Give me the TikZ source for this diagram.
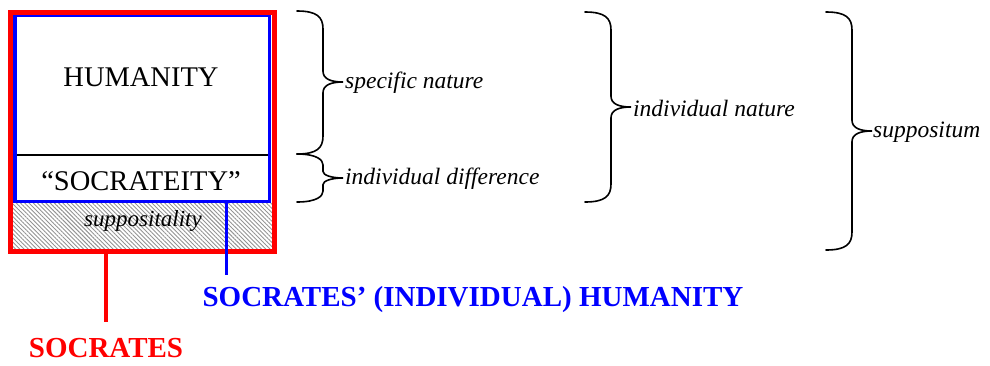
\documentclass[tikz,border=0pt]{standalone}
\usepackage{fontspec}
\setmainfont{Liberation Serif}
\usetikzlibrary{patterns.meta}
\definecolor{socred}{RGB}{255,0,0}
\definecolor{socblue}{RGB}{0,0,255}
\tikzset{
  curly/.style={line width=1.6pt, line cap=round},
  term/.style={font=\fontsize{23.5}{25}\selectfont\itshape, anchor=west, inner sep=1pt},
  part/.style={font=\fontsize{28.5}{30}\selectfont, inner sep=0pt},
  tag/.style={font=\fontsize{29}{31}\selectfont\bfseries, inner sep=0pt},
}
% x, top, middle, bottom, curl
\newcommand{\curlybrace}[5]{%
  \draw[curly] (#1,#2) .. controls ({#1+20},#2) and ({#1+26},{#2+6}) .. ({#1+26},{#2+#5})
    -- ({#1+26},{#3-#5*0.6}) .. controls ({#1+26},{#3-3}) and ({#1+34},#3) .. ({#1+46},#3)
    .. controls ({#1+34},#3) and ({#1+26},{#3+3}) .. ({#1+26},{#3+#5*0.6})
    -- ({#1+26},{#4-#5}) .. controls ({#1+26},{#4-6}) and ({#1+20},#4) .. (#1,#4);
}
\begin{document}
\begin{tikzpicture}[x=1pt, y=-1pt]
\useasboundingbox (0,0) rectangle (990,365);

% hatched part
\fill[pattern={Lines[angle=-45, distance=3pt, line width=0.9pt]}, pattern color=gray!85] (10.5,201.5) rectangle (274.5,251);
\draw[line width=1.6pt] (15,155) -- (269.5,155);
\draw[socblue, line width=3.5pt] (15,15.5) rectangle (269.5,201.5);
\draw[socred, line width=5pt] (10.5,12) rectangle (274.5,251);

\node[part] (humanity) at (141,77) {HUMANITY};
\node[part] (socrateity) at (141,181) {“SOCRATEITY”};
\node[part, font=\fontsize{23}{25}\selectfont\itshape] (suppositality) at (143,221) {suppositality};

% braces
\curlybrace{297}{11}{82}{154}{18}
\curlybrace{297}{154}{178}{202}{11}
\curlybrace{585}{12}{107}{202}{18}
\curlybrace{826}{12}{131}{250}{18}

\node[term] (specific) at (344,83) {specific nature};
\node[term] (difference) at (344,179) {individual difference};
\node[term] (indnature) at (632,108) {individual nature};
\node[term] (suppositum) at (872,132) {suppositum};

% labels below
\node[tag, text=socblue] (indhumanity) at (473,300) {SOCRATES’ (INDIVIDUAL) HUMANITY};
\node[tag, text=socred] (socrates) at (106,348) {SOCRATES};
\coordinate (bluefoot) at (226,201.5);
\coordinate (blueend) at (226,275);
\coordinate (redfoot) at (106,251);
\coordinate (redend) at (106,322);
\draw[socblue, line width=3pt] (bluefoot) -- (blueend);
\draw[socred, line width=4pt] (redfoot) -- (redend);

\end{tikzpicture}
\end{document}
